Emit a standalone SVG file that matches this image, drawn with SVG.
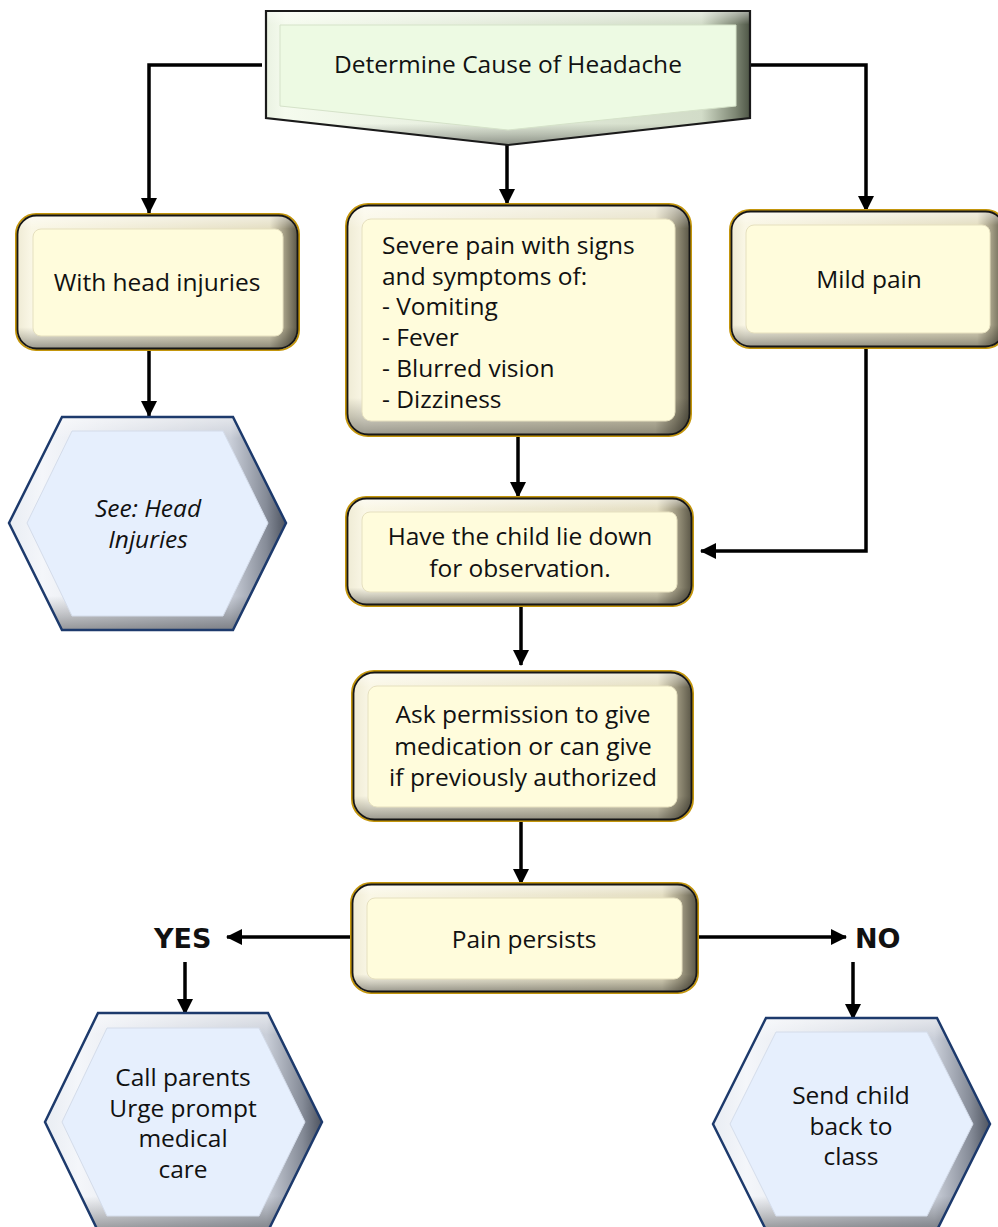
<svg xmlns="http://www.w3.org/2000/svg" width="998" height="1227" viewBox="0 0 998 1227">
<defs>
<linearGradient id="hY" x1="0" y1="0" x2="1" y2="0">
<stop offset="0" stop-color="#efebd5"/><stop offset="0.05" stop-color="#faf7e6"/><stop offset="0.9" stop-color="#e4dec2"/><stop offset="0.955" stop-color="#a09a82"/><stop offset="1" stop-color="#5c5848"/>
</linearGradient>
<linearGradient id="hB" x1="0" y1="0" x2="1" y2="0">
<stop offset="0" stop-color="#e9edf3"/><stop offset="0.12" stop-color="#f4f6fa"/><stop offset="0.8" stop-color="#c9ced8"/><stop offset="0.93" stop-color="#858b97"/><stop offset="1" stop-color="#4e5460"/>
</linearGradient>
<linearGradient id="hG" x1="0" y1="0" x2="1" y2="0">
<stop offset="0" stop-color="#eaf2e2"/><stop offset="0.04" stop-color="#f5fbee"/><stop offset="0.9" stop-color="#d2dcc8"/><stop offset="0.97" stop-color="#7e8774"/><stop offset="1" stop-color="#4e5646"/>
</linearGradient>
<linearGradient id="vS" x1="0" y1="0" x2="0" y2="1">
<stop offset="0" stop-color="#ffffff" stop-opacity="0.5"/><stop offset="0.1" stop-color="#ffffff" stop-opacity="0"/><stop offset="0.84" stop-color="#000000" stop-opacity="0"/><stop offset="0.92" stop-color="#000000" stop-opacity="0.18"/><stop offset="1" stop-color="#000000" stop-opacity="0.38"/>
</linearGradient>
<marker id="ah" markerUnits="userSpaceOnUse" markerWidth="16" markerHeight="16" viewBox="0 0 16 16" refX="15" refY="8" orient="auto">
<path d="M0,0 L16,8 L0,16 Z" fill="#000"/>
</marker>
<style>
.gold{fill:none;stroke:#c4960c;stroke-width:2}
.rb{fill:url(#hY)}
.rout{fill:url(#vS);stroke:#161616;stroke-width:1.8}
.rin{fill:#fffcdc;stroke:#e6e0bf;stroke-width:1}
.hb{fill:url(#hB)}
.hout{fill:url(#vS);stroke:#1d3a6c;stroke-width:2.5}
.hin{fill:#e6effd;stroke:#d4dcea;stroke-width:1}
.cb{fill:url(#hG)}
.cout{fill:url(#vS);stroke:#1a1a1a;stroke-width:2.2}
.cin{fill:#edfae3;stroke:#d5e2c9;stroke-width:1}
.t{font-family:"Open Sans","DejaVu Sans",sans-serif;font-size:24.5px;fill:#111}
.c{text-anchor:middle}
.i{font-style:italic}
.b{font-family:"DejaVu Sans",sans-serif;font-weight:bold;font-size:27px;fill:#111}
.con{fill:none;stroke:#000;stroke-width:3.5;marker-end:url(#ah)}
</style>
</defs>

<g id="connectors">
<path class="con" d="M262,65 H149 V213"/>
<path class="con" d="M750,65 H866 V211"/>
<path class="con" d="M507,145 V204"/>
<path class="con" d="M149,351 V416"/>
<path class="con" d="M518,437 V497"/>
<path class="con" d="M866,349 V551 H701"/>
<path class="con" d="M521,607 V665"/>
<path class="con" d="M521,822 V884"/>
<path class="con" d="M350,937 H227"/>
<path class="con" d="M697,937 H846"/>
<path class="con" d="M185,962 V1014"/>
<path class="con" d="M853,962 V1019"/>
</g>

<g id="n-determine">
<polygon class="cb" points="266,11 750,11 750,118 508,145 266,118"/>
<polygon class="cout" points="266,11 750,11 750,118 508,145 266,118"/>
<polygon class="cin" points="280,25 736,25 736,106 508,130 280,106"/>
<text class="t c" x="508" y="73">Determine Cause of Headache</text>
</g>

<g id="n-headinj">
<rect class="gold" x="16" y="214" width="283" height="136" rx="20"/>
<rect class="rb" x="17.5" y="215.5" width="280" height="133" rx="19"/>
<rect class="rout" x="17.5" y="215.5" width="280" height="133" rx="19"/>
<rect class="rin" x="33" y="229" width="250" height="107" rx="8"/>
<text class="t c" x="157" y="291">With head injuries</text>
</g>

<g id="n-severe">
<rect class="gold" x="346" y="204" width="345" height="232" rx="22"/>
<rect class="rb" x="347.5" y="205.5" width="342" height="229" rx="21"/>
<rect class="rout" x="347.5" y="205.5" width="342" height="229" rx="21"/>
<rect class="rin" x="362" y="219" width="313" height="202" rx="9"/>
<text class="t" x="382" y="254">Severe pain with signs</text>
<text class="t" x="382" y="285">and symptoms of:</text>
<text class="t" x="382" y="315">- Vomiting</text>
<text class="t" x="382" y="346">- Fever</text>
<text class="t" x="382" y="377">- Blurred vision</text>
<text class="t" x="382" y="408">- Dizziness</text>
</g>

<g id="n-mild">
<rect class="gold" x="730" y="210" width="276" height="138" rx="20"/>
<rect class="rb" x="731.5" y="211.5" width="273" height="135" rx="19"/>
<rect class="rout" x="731.5" y="211.5" width="273" height="135" rx="19"/>
<rect class="rin" x="746" y="225" width="244" height="108" rx="8"/>
<text class="t c" x="869" y="288">Mild pain</text>
</g>

<g id="n-seehead">
<polygon class="hb" points="9,523 62,417 233,417 286,523 233,630 62,630"/>
<polygon class="hout" points="9,523 62,417 233,417 286,523 233,630 62,630"/>
<polygon class="hin" points="27,523 72,431 223,431 268,523 223,616 72,616"/>
<text class="t c i" x="148" y="517">See: Head</text>
<text class="t c i" x="148" y="548">Injuries</text>
</g>

<g id="n-liedown">
<rect class="gold" x="346" y="497" width="347" height="109" rx="20"/>
<rect class="rb" x="347.5" y="498.5" width="344" height="106" rx="19"/>
<rect class="rout" x="347.5" y="498.5" width="344" height="106" rx="19"/>
<rect class="rin" x="362" y="512" width="315" height="80" rx="8"/>
<text class="t c" x="520" y="545">Have the child lie down</text>
<text class="t c" x="520" y="577">for observation.</text>
</g>

<g id="n-ask">
<rect class="gold" x="352" y="671" width="341" height="150" rx="22"/>
<rect class="rb" x="353.5" y="672.5" width="338" height="147" rx="21"/>
<rect class="rout" x="353.5" y="672.5" width="338" height="147" rx="21"/>
<rect class="rin" x="368" y="686" width="309" height="121" rx="9"/>
<text class="t c" x="523" y="723">Ask permission to give</text>
<text class="t c" x="523" y="755">medication or can give</text>
<text class="t c" x="523" y="786">if previously authorized</text>
</g>

<g id="n-persists">
<rect class="gold" x="351" y="883" width="347" height="110" rx="20"/>
<rect class="rb" x="352.5" y="884.5" width="344" height="107" rx="19"/>
<rect class="rout" x="352.5" y="884.5" width="344" height="107" rx="19"/>
<rect class="rin" x="367" y="898" width="315" height="81" rx="8"/>
<text class="t c" x="524" y="948">Pain persists</text>
</g>

<g id="l-yes">
<text class="b" x="154" y="948">YES</text>
</g>
<g id="l-no">
<text class="b" x="855" y="948">NO</text>
</g>

<g id="n-callparents">
<polygon class="hb" points="45,1122 98,1013 268,1013 322,1122 268,1231 98,1231"/>
<polygon class="hout" points="45,1122 98,1013 268,1013 322,1122 268,1231 98,1231"/>
<polygon class="hin" points="62,1122 107,1028 259,1028 305,1122 259,1216 107,1216"/>
<text class="t c" x="183" y="1086">Call parents</text>
<text class="t c" x="183" y="1117">Urge prompt</text>
<text class="t c" x="183" y="1147">medical</text>
<text class="t c" x="183" y="1178">care</text>
</g>

<g id="n-sendback">
<polygon class="hb" points="713,1124 766,1018 937,1018 990,1124 937,1230 766,1230"/>
<polygon class="hout" points="713,1124 766,1018 937,1018 990,1124 937,1230 766,1230"/>
<polygon class="hin" points="730,1124 776,1032 927,1032 973,1124 927,1216 776,1216"/>
<text class="t c" x="851" y="1104">Send child</text>
<text class="t c" x="851" y="1135">back to</text>
<text class="t c" x="851" y="1165">class</text>
</g>
</svg>
